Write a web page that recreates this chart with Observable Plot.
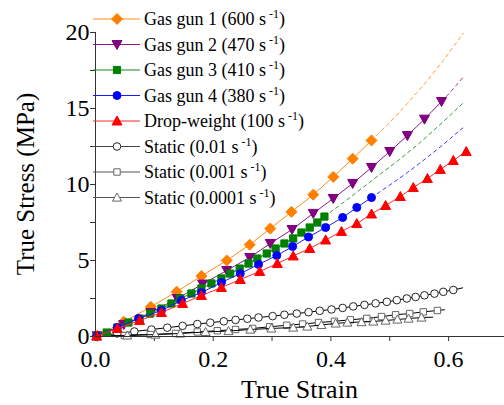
<!DOCTYPE html>
<html>
<head>
<meta charset="utf-8">
<script src="https://cdn.jsdelivr.net/npm/d3@7"></script>
<script src="https://cdn.jsdelivr.net/npm/@observablehq/plot@0.6"></script>
<style>
  html, body { margin: 0; padding: 0; background: #fff; }
  #chart { width: 504px; height: 405px; }
</style>
</head>
<body>
<div id="chart"></div>
<script>
// ---- Legend entries ----
const seriesNames = ["Gas gun 1", "Gas gun 2", "Gas gun 3", "Gas gun 4", "Drop-weight", "Static", "Static", "Static"];
const strainRates = ["600", "470", "410", "380", "100", "0.01", "0.001", "0.0001"];

// ---- Gas gun 1 (600 /s) ----
const gun1Strain = [0.003, 0.048, 0.094, 0.138, 0.180, 0.223, 0.262, 0.297, 0.333, 0.370, 0.404, 0.437, 0.469];
const gun1Stress = [0.05, 0.97, 1.95, 2.95, 3.98, 5.00, 6.04, 7.10, 8.20, 9.33, 10.50, 11.70, 12.90];
const gun1FitStrain = [0.469, 0.500, 0.530, 0.560, 0.590, 0.625];
const gun1FitStress = [12.90, 14.08, 15.33, 16.66, 18.10, 19.95];

// ---- Gas gun 2 (470 /s) ----
const gun2Strain = [0.003, 0.048, 0.094, 0.139, 0.182, 0.223, 0.262, 0.297, 0.334, 0.370, 0.404, 0.437, 0.469, 0.500, 0.530, 0.559, 0.588];
const gun2Stress = [0.05, 0.79, 1.58, 2.50, 3.45, 4.34, 5.20, 6.12, 7.04, 8.10, 9.08, 10.07, 11.12, 12.17, 13.22, 14.30, 15.46];
const gun2FitStrain = [0.588, 0.600, 0.6125, 0.625];
const gun2FitStress = [15.46, 15.95, 16.50, 17.08];

// ---- Gas gun 3 (410 /s) ----
const gun3Strain = [0.002, 0.019, 0.037, 0.056, 0.075, 0.093, 0.112, 0.129, 0.144, 0.163, 0.180, 0.197, 0.214, 0.229, 0.245, 0.260, 0.275, 0.291, 0.306, 0.321, 0.336, 0.350, 0.364, 0.377, 0.389];
const gun3Stress = [0.03, 0.26, 0.59, 0.92, 1.18, 1.51, 1.84, 2.17, 2.50, 2.83, 3.16, 3.49, 3.82, 4.14, 4.47, 4.80, 5.13, 5.46, 5.79, 6.12, 6.45, 6.84, 7.17, 7.50, 7.89];
const gun3FitStrain = [0.389, 0.430, 0.470, 0.510, 0.550, 0.590, 0.624];
const gun3FitStress = [7.89, 9.07, 10.27, 11.45, 12.70, 14.10, 15.33];

// ---- Gas gun 4 (380 /s) ----
const gun4Strain = [0.002, 0.037, 0.073, 0.112, 0.146, 0.180, 0.214, 0.246, 0.277, 0.308, 0.335, 0.362, 0.391, 0.420, 0.444, 0.469];
const gun4Stress = [0.03, 0.59, 1.18, 1.71, 2.37, 2.89, 3.55, 4.14, 4.74, 5.33, 5.92, 6.55, 7.17, 7.83, 8.49, 9.14];
const gun4FitStrain = [0.469, 0.500, 0.530, 0.560, 0.590, 0.624];
const gun4FitStress = [9.14, 9.96, 10.79, 11.67, 12.60, 13.72];

// ---- Drop-weight (100 /s) ----
const dropStrain = [0.002, 0.037, 0.075, 0.112, 0.148, 0.180, 0.214, 0.246, 0.279, 0.309, 0.336, 0.364, 0.391, 0.418, 0.444, 0.469, 0.493, 0.518, 0.540, 0.564, 0.586, 0.608, 0.630];
const dropStress = [0.03, 0.53, 1.05, 1.58, 2.17, 2.70, 3.22, 3.75, 4.28, 4.80, 5.30, 5.79, 6.35, 6.91, 7.43, 8.06, 8.62, 9.21, 9.80, 10.39, 10.99, 11.58, 12.17];

// ---- Static (0.01 /s) ----
const static2Strain = [0.002, 0.037, 0.066, 0.095, 0.122, 0.148, 0.173, 0.195, 0.218, 0.238, 0.258, 0.277, 0.301, 0.321, 0.342, 0.362, 0.381, 0.401, 0.420, 0.438, 0.457, 0.476, 0.495, 0.512, 0.529, 0.544, 0.559, 0.576, 0.591, 0.608];
const static2Stress = [0.02, 0.20, 0.33, 0.46, 0.58, 0.70, 0.82, 0.91, 1.00, 1.09, 1.17, 1.25, 1.34, 1.43, 1.51, 1.60, 1.69, 1.78, 1.88, 1.98, 2.08, 2.18, 2.28, 2.39, 2.50, 2.60, 2.71, 2.82, 2.94, 3.06];
const static2EndStrain = 0.624, static2EndStress = 3.20;

// ---- Static (0.001 /s) ----
const static3Strain = [0.002, 0.049, 0.093, 0.136, 0.173, 0.207, 0.238, 0.267, 0.296, 0.325, 0.352, 0.379, 0.406, 0.433, 0.461, 0.486, 0.510, 0.534, 0.557, 0.581];
const static3Stress = [0.01, 0.07, 0.13, 0.20, 0.30, 0.38, 0.46, 0.53, 0.64, 0.74, 0.82, 0.92, 1.00, 1.10, 1.19, 1.31, 1.43, 1.51, 1.62, 1.71];
const static3EndStrain = 0.593, static3EndStress = 1.76;

// ---- Static (0.0001 /s) ----
const static4Strain = [0.002, 0.054, 0.102, 0.144, 0.187, 0.226, 0.263, 0.299, 0.336, 0.360, 0.384, 0.408, 0.428, 0.452, 0.472, 0.493, 0.513, 0.532, 0.554];
const static4Stress = [0.01, 0.07, 0.13, 0.20, 0.30, 0.36, 0.46, 0.53, 0.59, 0.66, 0.76, 0.86, 0.92, 0.95, 0.99, 1.05, 1.12, 1.18, 1.25];
const static4EndStrain = 0.573, static4EndStress = 1.27;

// ---- Axis ticks ----
const xMajorTicks = [0, 0.2, 0.4, 0.6];
const xMinorTicks = [0.1, 0.3, 0.5];
const yMajorTicks = [0, 5, 10, 15, 20];
const yMinorTicks = [2.5, 7.5, 12.5, 17.5];

// ---- Marker shapes (size is the area passed by Plot / d3.symbol) ----
const rad = s => Math.sqrt(s / Math.PI);
const shapes = {
  diamond: {draw(c, s) { const r = rad(s); c.moveTo(0, -r); c.lineTo(r, 0); c.lineTo(0, r); c.lineTo(-r, 0); c.closePath(); }},
  triDown: {draw(c, s) { const r = rad(s); c.moveTo(-r, -0.8 * r); c.lineTo(r, -0.8 * r); c.lineTo(0, r); c.closePath(); }},
  triUp: {draw(c, s) { const r = rad(s); c.moveTo(0, -r); c.lineTo(r, 0.8 * r); c.lineTo(-r, 0.8 * r); c.closePath(); }},
  square: {draw(c, s) { const r = rad(s); c.rect(-r, -r, 2 * r, 2 * r); }},
  circle: {draw(c, s) { const r = rad(s); c.moveTo(r, 0); c.arc(0, 0, r, 0, 2 * Math.PI); }}
};

// ---- Per-series drawing styles, in legend order ----
const styles = [
  {line: "#ff8c1a", shape: shapes.diamond, r: 5.5, fill: "#ff8000", stroke: "#ff8000"},
  {line: "#8a1a8a", shape: shapes.triDown, r: 5, fill: "#800080", stroke: "#800080"},
  {line: "#1a8a1a", shape: shapes.square, r: 3.6, fill: "#008000", stroke: "#008000"},
  {line: "#1a1aff", shape: shapes.circle, r: 4, fill: "#0000ff", stroke: "#0000ff"},
  {line: "#ff2a2a", shape: shapes.triUp, r: 5, fill: "#ff0000", stroke: "#ff0000"},
  {line: "#000000", legendLine: "#444", shape: shapes.circle, r: 3.8, fill: "#fff", stroke: "#222"},
  {line: "#000000", legendLine: "#555", shape: shapes.square, r: 3.2, fill: "#fff", stroke: "#666"},
  {line: "#000000", legendLine: "#555", shape: shapes.triUp, r: 4.5, fill: "#fff", stroke: "#666"}
];

const toPoints = (xs, ys) => xs.map((x, i) => ({strain: x, stress: ys[i]}));

const series = [
  {pts: toPoints(gun1Strain, gun1Stress), fit: toPoints(gun1FitStrain, gun1FitStress)},
  {pts: toPoints(gun2Strain, gun2Stress), fit: toPoints(gun2FitStrain, gun2FitStress)},
  {pts: toPoints(gun3Strain, gun3Stress), fit: toPoints(gun3FitStrain, gun3FitStress)},
  {pts: toPoints(gun4Strain, gun4Stress), fit: toPoints(gun4FitStrain, gun4FitStress)},
  {pts: toPoints(dropStrain, dropStress)},
  {pts: toPoints(static2Strain, static2Stress), end: {strain: static2EndStrain, stress: static2EndStress}},
  {pts: toPoints(static3Strain, static3Stress), end: {strain: static3EndStrain, stress: static3EndStress}},
  {pts: toPoints(static4Strain, static4Stress), end: {strain: static4EndStrain, stress: static4EndStress}}
];

// Static curves go underneath, the dynamic tests on top in legend order
const drawOrder = [5, 6, 7, 0, 1, 2, 3, 4];
const dataMarks = [];
for (const i of drawOrder) {
  const s = series[i], st = styles[i];
  const linePts = s.end ? [...s.pts, s.end] : s.pts;
  dataMarks.push(Plot.line(linePts, {x: "strain", y: "stress", stroke: st.line, strokeWidth: 1}));
  if (s.fit) {
    dataMarks.push(Plot.line(s.fit, {x: "strain", y: "stress", stroke: st.line, strokeWidth: 1, strokeDasharray: "3.5,3.5", strokeOpacity: 0.85}));
  }
  dataMarks.push(Plot.dot(s.pts, {x: "strain", y: "stress", symbol: st.shape, r: st.r, fill: st.fill, stroke: st.stroke, strokeWidth: 1}));
}

const serif = "'Liberation Serif', 'Times New Roman', serif";
const axisColor = "#333";

const chart = Plot.plot({
  width: 504,
  height: 405,
  marginLeft: 95,
  marginRight: 0,
  marginTop: 32,
  marginBottom: 69,
  x: {domain: [0, 0.695]},
  y: {domain: [0, 20]},
  style: {fontFamily: serif, fontSize: "24px", color: "#000", background: "#fff", overflow: "visible"},
  marks: [
    Plot.axisX(xMinorTicks, {tickSize: 5, tickFormat: () => "", label: null, stroke: axisColor}),
    Plot.axisX(xMajorTicks, {tickSize: 5, tickPadding: 8, tickFormat: d => d.toFixed(1), label: null, stroke: axisColor, fontSize: 24}),
    Plot.axisY(yMinorTicks, {tickSize: 5, tickFormat: () => "", label: null, stroke: axisColor}),
    Plot.axisY(yMajorTicks, {tickSize: 5, tickPadding: 1, tickFormat: d => String(d), label: null, stroke: axisColor, fontSize: 24}),
    ...dataMarks,
    Plot.ruleY([0], {stroke: axisColor, strokeWidth: 1}),
    Plot.ruleX([0], {stroke: axisColor, strokeWidth: 1})
  ]
});

const svg = d3.select(chart);

// Axis titles
svg.append("text")
  .attr("x", 299.5).attr("y", 398)
  .attr("text-anchor", "middle")
  .attr("font-family", serif).attr("font-size", 26).attr("fill", "#000")
  .text("True Strain");
svg.append("text")
  .attr("transform", "translate(34,184) rotate(-90)")
  .attr("text-anchor", "middle")
  .attr("font-family", serif).attr("font-size", 25).attr("fill", "#000")
  .text("True Stress (MPa)");

// Legend
const legend = svg.append("g").attr("font-family", serif).attr("fill", "#000").attr("text-anchor", "start");
seriesNames.forEach((name, i) => {
  const st = styles[i];
  const cy = 19 + i * 25.5;
  const row = legend.append("g").attr("transform", `translate(0,${cy})`);
  row.append("line").attr("x1", 93).attr("x2", 140).attr("y1", 0).attr("y2", 0)
    .attr("stroke", st.legendLine || st.line).attr("stroke-width", 1);
  row.append("path")
    .attr("transform", "translate(117,0)")
    .attr("d", d3.symbol(st.shape, Math.PI * st.r * st.r)())
    .attr("fill", st.fill).attr("stroke", st.stroke).attr("stroke-width", 1);
  const t = row.append("text").attr("x", 144).attr("y", 6).attr("font-size", 18).attr("text-anchor", "start");
  t.append("tspan").text(`${name} (${strainRates[i]} s`);
  t.append("tspan").attr("dx", 3).attr("dy", -7).attr("font-size", 12).text("-1");
  t.append("tspan").attr("dy", 7).text(")");
});

document.getElementById("chart").appendChild(chart);
</script>
</body>
</html>
